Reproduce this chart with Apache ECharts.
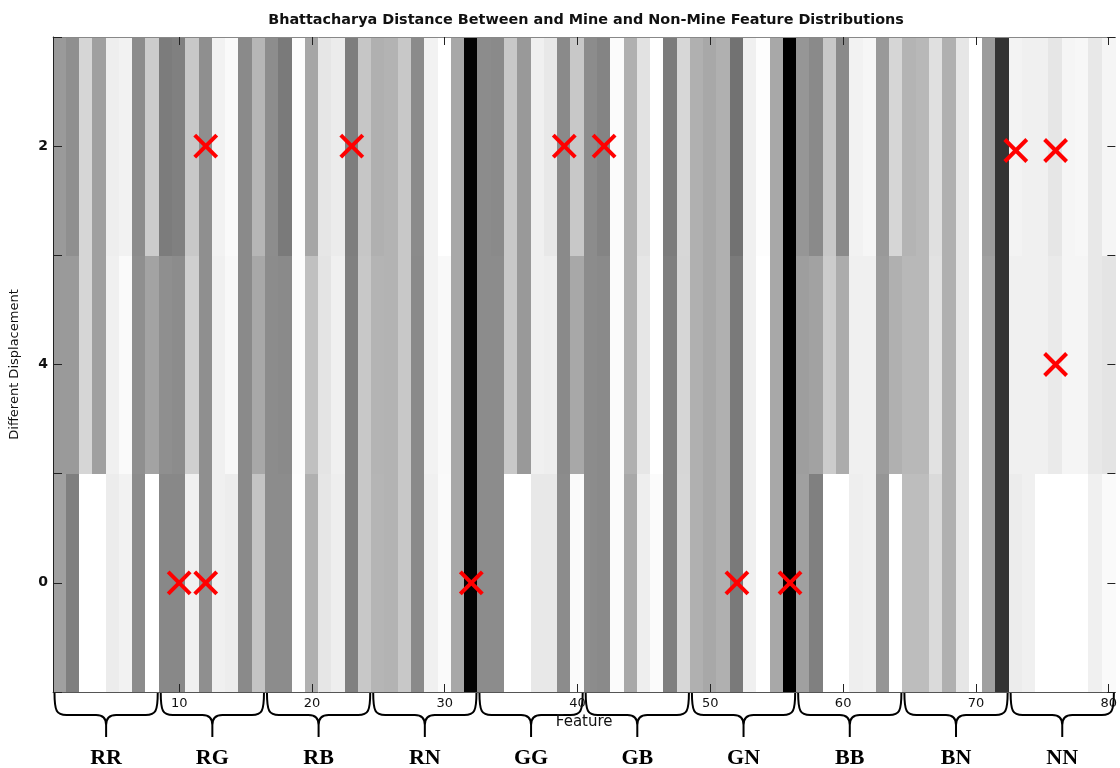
<!DOCTYPE html>
<html>
<head>
<meta charset="utf-8">
<script src="https://cdn.jsdelivr.net/npm/echarts@6/dist/echarts.min.js"></script>
<style>
html,body{margin:0;padding:0;background:#ffffff;}
#chart{width:1120px;height:768px;}
</style>
</head>
<body>
<div id="chart"></div>
<script>
// ---------------- data ----------------
const titleText = 'Bhattacharya Distance Between and Mine and Non-Mine Feature Distributions';
const xAxisName = 'Feature';
const yAxisName = 'Different Displacement';
const featureCount = 80;
const xTickValues = [10, 20, 30, 40, 50, 60, 70, 80];
// row labels, bottom -> top
const rowLabels = ['0', '4', '2'];

// gray level (0 = black, 255 = white) of each feature, per displacement row
const rowBottom = [
  160,127,255,255,236,242,140,255,136,136, 240,143,240,237,138,196,140,140,253,176,
  230,238,128,200,181,179,200,138,240,250, 168,  4,140,140,255,255,232,232,140,250,
  140,138,251,168,238,251,127,215,176,168, 176,122,240,255,168,  0,160,128,255,255,
  238,240,150,255,189,189,218,176,230,255, 160, 51,236,240,255,255,255,255,240,250
];
const rowMiddle = [
  154,154,214,160,240,250,143,163,143,140, 207,143,240,248,138,168,140,138,252,192,
  228,240,128,200,180,179,200,138,242,249, 168,  4,140,140,200,153,240,238,138,168,
  140,138,251,176,230,255,127,214,176,168, 176,122,240,255,168,  0,158,162,204,172,
  240,240,156,176,184,184,226,176,230,255, 160, 51,240,240,240,234,245,245,232,228
];
const rowTop = [
  154,143,214,160,238,242,140,204,124,128, 200,143,242,250,138,182,141,122,252,166,
  230,236,126,198,176,179,200,139,242,255, 168,  4,140,138,200,153,240,232,138,200,
  140,132,251,176,226,255,124,215,176,168, 176,114,240,253,168,  0,150,138,200,138,
  242,246,153,214,180,184,224,176,230,255, 156, 51,243,240,240,230,245,247,232,245
];

// feature groups under the x axis (8 features each)
const groupNames = ['RR', 'RG', 'RB', 'RN', 'GG', 'GB', 'GN', 'BB', 'BN', 'NN'];
const groupSize = 8;

// red cross markers: feature number and displacement row value
const markerFeatures = [12, 23, 39, 42, 73, 76, 76, 10, 12, 32, 52, 56];
const markerRows     = [2, 2, 2, 2, 1.98, 1.98, 1, 0, 0, 0, 0, 0];

// ---------------- build ----------------
const rows = [rowBottom, rowMiddle, rowTop];
const cellData = [];
rows.forEach((row, r) => {
  row.forEach((v, i) => cellData.push([i + 1, r, v]));
});
const groupData = groupNames.map((n, k) => [k * groupSize + 1, (k + 1) * groupSize]);
const markerData = markerFeatures.map((f, i) => [f, markerRows[i]]);

const chart = echarts.init(document.getElementById('chart'), null, {renderer: 'canvas'});

function renderCell(params, api) {
  const x = api.value(0), y = api.value(1);
  const p1 = api.coord([x - 0.5, y + 0.5]);
  const p2 = api.coord([x + 0.5, y - 0.5]);
  const x0 = Math.floor(p1[0]), y0 = Math.floor(p1[1]);
  return {
    type: 'rect',
    shape: {x: x0, y: y0, width: Math.ceil(p2[0]) - x0, height: Math.ceil(p2[1]) - y0},
    style: {fill: api.visual('color')}
  };
}

function renderBrace(params, api) {
  const a = api.value(0), b = api.value(1);
  const pl = api.coord([a - 0.5, -0.5]);
  const pr = api.coord([b + 0.5, -0.5]);
  const x1 = pl[0] + 1.5, x2 = pr[0] - 1.5, base = pl[1];
  const xm = (x1 + x2) / 2;
  const y0 = base + 1, y1 = base + 23, y2 = base + 45;
  const d =
    'M' + x1 + ',' + y0 +
    ' C' + x1 + ',' + (y1 - 4) + ' ' + (x1 + 2) + ',' + y1 + ' ' + (x1 + 12) + ',' + y1 +
    ' L' + (xm - 10) + ',' + y1 +
    ' C' + (xm - 3) + ',' + y1 + ' ' + xm + ',' + (y1 + 3) + ' ' + xm + ',' + (y1 + 10) +
    ' L' + xm + ',' + y2 +
    ' M' + x2 + ',' + y0 +
    ' C' + x2 + ',' + (y1 - 4) + ' ' + (x2 - 2) + ',' + y1 + ' ' + (x2 - 12) + ',' + y1 +
    ' L' + (xm + 10) + ',' + y1 +
    ' C' + (xm + 3) + ',' + y1 + ' ' + xm + ',' + (y1 + 3) + ' ' + xm + ',' + (y1 + 10);
  return {
    type: 'group',
    children: [
      {type: 'path', shape: {pathData: d}, style: {stroke: '#000', lineWidth: 2, fill: 'none'}},
      {type: 'text', style: {
        text: groupNames[params.dataIndex], x: xm, y: base + 66,
        align: 'center', verticalAlign: 'middle',
        font: 'bold 22px "Liberation Serif", "Times New Roman", serif', fill: '#000'
      }}
    ]
  };
}

function renderMarker(params, api) {
  const c = api.coord([api.value(0), api.value(1)]);
  const h = 11;
  const st = {stroke: '#ff0000', lineWidth: 4, lineCap: 'butt'};
  return {
    type: 'group',
    children: [
      {type: 'line', shape: {x1: c[0] - h, y1: c[1] - h, x2: c[0] + h, y2: c[1] + h}, style: st},
      {type: 'line', shape: {x1: c[0] - h, y1: c[1] + h, x2: c[0] + h, y2: c[1] - h}, style: st}
    ]
  };
}

const fontFam = '"DejaVu Sans", Verdana, sans-serif';

const option = {
  backgroundColor: '#ffffff',
  animation: false,
  title: {
    text: titleText,
    left: 581, top: 8, textAlign: 'center',
    textStyle: {fontFamily: fontFam, fontSize: 14.4, fontWeight: 'bold', color: '#111'}
  },
  grid: {left: 53, right: 0, top: 37, bottom: 76, containLabel: false},
  visualMap: {
    show: false, type: 'continuous', min: 0, max: 255, dimension: 2, seriesIndex: 0,
    inRange: {color: ['#000000', '#ffffff']}
  },
  xAxis: [{
    type: 'value', position: 'bottom', min: 0.5, max: featureCount + 0.5, z: 5,
    name: xAxisName, nameLocation: 'middle', nameGap: 21,
    nameTextStyle: {fontFamily: fontFam, fontSize: 15, color: '#111'},
    axisLine: {show: true, onZero: false, lineStyle: {color: '#555', width: 1}},
    axisTick: {show: true, inside: true, length: 8, customValues: xTickValues, lineStyle: {color: '#222'}},
    axisLabel: {customValues: xTickValues, fontFamily: fontFam, fontSize: 13, color: '#111', margin: 5},
    splitLine: {show: false}
  }, {
    type: 'value', position: 'top', min: 0.5, max: featureCount + 0.5, z: 5,
    axisLine: {show: true, onZero: false, lineStyle: {color: '#888', width: 1}},
    axisTick: {show: true, inside: true, length: 8, customValues: xTickValues, lineStyle: {color: '#222'}},
    axisLabel: {show: false},
    splitLine: {show: false}
  }],
  yAxis: [{
    type: 'value', position: 'left', min: -0.5, max: 2.5, interval: 0.5, z: 5,
    name: yAxisName, nameLocation: 'middle', nameGap: 32, nameRotate: 90,
    nameTextStyle: {fontFamily: fontFam, fontSize: 13, color: '#111'},
    axisLine: {show: true, onZero: false, lineStyle: {color: '#222', width: 1}},
    axisTick: {show: true, inside: true, length: 9, lineStyle: {color: '#222'}},
    axisLabel: {
      fontFamily: fontFam, fontSize: 14, fontWeight: 'bold', color: '#111', margin: 5,
      formatter: v => (Number.isInteger(v) ? rowLabels[v] : '')
    },
    splitLine: {show: false}
  }, {
    type: 'value', position: 'right', min: -0.5, max: 2.5, interval: 0.5, z: 5,
    axisLine: {show: false},
    axisTick: {show: true, inside: true, length: 8, lineStyle: {color: '#222'}},
    axisLabel: {show: false},
    splitLine: {show: false}
  }],
  series: [{
    type: 'custom', name: 'distance', xAxisIndex: 0, yAxisIndex: 0,
    renderItem: renderCell, data: cellData, encode: {x: 0, y: 1}, clip: true, z: 1
  }, {
    type: 'custom', name: 'groups', xAxisIndex: 0, yAxisIndex: 0,
    renderItem: renderBrace, data: groupData, encode: {x: [0, 1]}, clip: false, silent: true, z: 3
  }, {
    type: 'custom', name: 'selected', xAxisIndex: 0, yAxisIndex: 0,
    renderItem: renderMarker, data: markerData, encode: {x: 0, y: 1}, clip: false, z: 4
  }]
};
chart.setOption(option);
</script>
</body>
</html>
